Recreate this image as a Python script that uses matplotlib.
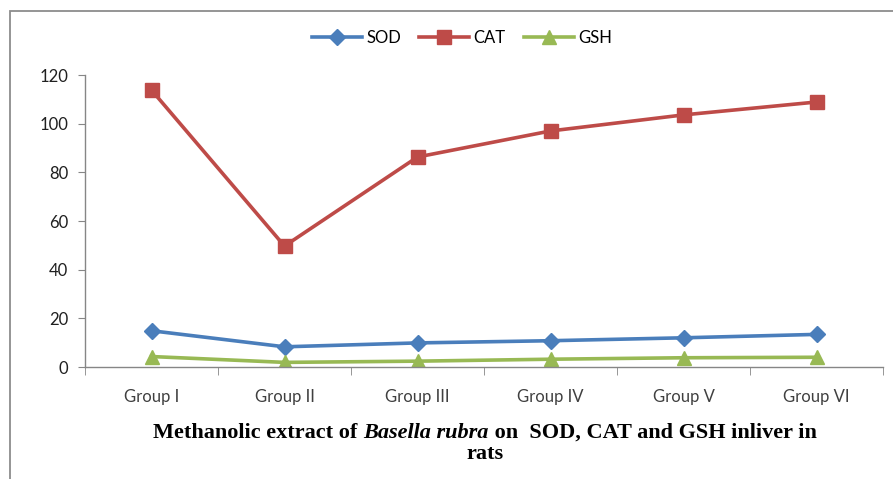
import matplotlib
matplotlib.use("Agg")
import matplotlib.pyplot as plt
from matplotlib.patches import Rectangle

groups = ["Group I", "Group II", "Group III", "Group IV", "Group V", "Group VI"]
sod = [14.9, 8.3, 9.9, 10.8, 12.0, 13.4]
cat = [113.8, 49.7, 86.3, 97.0, 103.6, 108.9]
gsh = [4.3, 1.9, 2.4, 3.2, 3.8, 4.0]

W, H = 893, 479
fig = plt.figure(figsize=(W / 100, H / 100), dpi=100)
fig.patch.set_facecolor("white")

# outer frame
fig.patches.append(Rectangle((10 / W, -0.1), 1.2, (H - 11) / H + 0.1,
                             transform=fig.transFigure, fill=False,
                             edgecolor="#8c8c8c", linewidth=1.3))

ax = fig.add_axes([85 / W, 1 - 367 / H, (883 - 85) / W, (367 - 75) / H])
x = list(range(len(groups)))
ax.plot(x, sod, color="#4A7EBB", lw=2.6, marker="D", ms=8, label="SOD")
ax.plot(x, cat, color="#BE4B48", lw=2.6, marker="s", ms=9.5, label="CAT")
ax.plot(x, gsh, color="#98B954", lw=2.6, marker="^", ms=10, label="GSH")

ax.set_xlim(-0.5, len(groups) - 0.5)
ax.set_ylim(0, 120)
ax.set_yticks(range(0, 121, 20))
ax.set_xticks(x)
ax.set_xticklabels(groups)
ax.set_xticks([i - 0.5 for i in range(len(groups) + 1)], minor=True)
ax.tick_params(axis="x", which="major", length=0, pad=16, labelsize=12, labelcolor="#404040")
ax.tick_params(axis="x", which="minor", length=6, color="#868686", direction="out")
ax.tick_params(axis="y", length=5, color="#868686", labelsize=12, labelcolor="#202020", pad=7)
for s in ["top", "right"]:
    ax.spines[s].set_visible(False)
for s in ["left", "bottom"]:
    ax.spines[s].set_color("#868686")
    ax.spines[s].set_linewidth(1.0)
for lab in ax.get_xticklabels() + ax.get_yticklabels():
    lab.set_fontfamily("Lato")

leg = fig.legend(loc="center", bbox_to_anchor=(462 / W, 1 - 38 / H), ncol=3,
                 frameon=False, handlelength=3.0, columnspacing=1.1, handletextpad=0.25,
                 prop={"family": "Lato", "size": 12})

# title with italic part
fig.canvas.draw()
r = fig.canvas.get_renderer()
parts = [("Methanolic extract of ", "normal"), ("Basella rubra", "italic"),
         (" on  SOD, CAT and GSH inliver in", "normal")]
texts = []
for s, st in parts:
    t = fig.text(0, 1 - 433 / H, s, fontfamily="Liberation Serif", fontweight="bold",
                 fontstyle=st, fontsize=16, va="center", ha="left")
    texts.append(t)
widths = [t.get_window_extent(r).width for t in texts]
total = sum(widths)
cx = 485
start = cx - total / 2
for t, w in zip(texts, widths):
    t.set_x(start / W)
    start += w
fig.text(cx / W, 1 - 454 / H, "rats", fontfamily="Liberation Serif", fontweight="bold",
         fontsize=16, va="center", ha="center")

fig.savefig("out.png", dpi=100)
